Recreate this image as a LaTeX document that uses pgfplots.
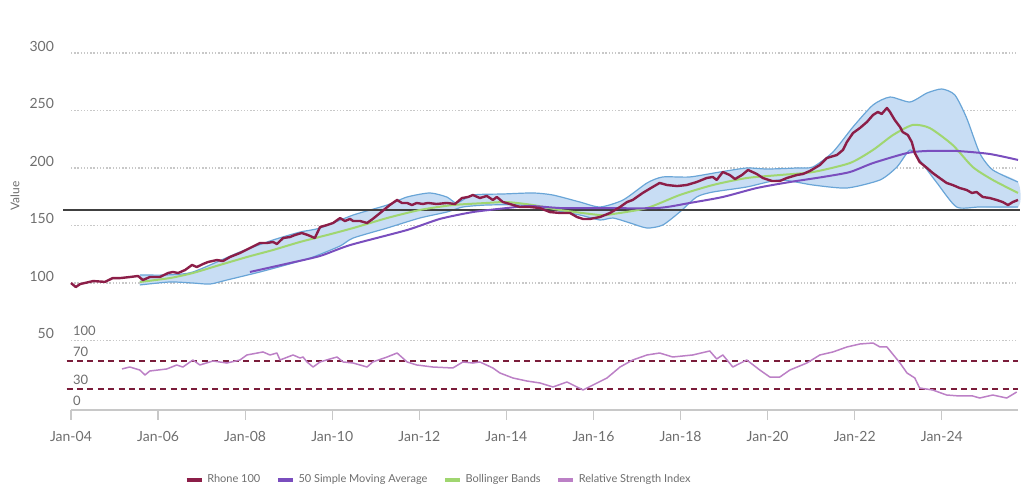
\documentclass[border=0pt]{standalone}
\usepackage{fontspec}
\setmainfont{Lato}
\usepackage{pgfplots}
\usepackage{pgfplotstable}
\pgfplotsset{compat=1.18}

\definecolor{rhone}{RGB}{140,30,72}
\definecolor{sma}{RGB}{122,78,190}
\definecolor{boll}{RGB}{160,214,112}
\definecolor{bandfill}{RGB}{200,221,244}
\definecolor{bandline}{RGB}{105,165,215}
\definecolor{rsi}{RGB}{188,128,198}
\definecolor{rsiref}{RGB}{122,28,58}
\definecolor{txt}{RGB}{110,110,110}
\definecolor{gridc}{RGB}{200,200,200}

% x = years since Jan 2004
\pgfplotstableread{
x y
1.58 107.0
2.20 107.0
2.80 109.6
3.88 127.0
4.64 137.4
5.26 144.3
5.72 147.8
6.48 159.1
7.26 167.8
7.72 174.8
8.24 178.3
8.63 174.8
8.86 169.6
9.23 176.5
9.92 177.4
10.61 178.3
11.07 176.5
11.69 170.4
12.15 166.1
12.68 172.2
13.23 187.0
13.59 192.2
14.21 192.2
14.90 196.5
15.52 200.0
15.98 199.1
16.67 200.0
17.04 200.9
17.50 213.9
17.96 235.7
18.42 254.8
18.81 261.7
19.27 257.4
19.66 265.2
20.00 268.7
20.30 263.5
20.57 243.5
20.87 213.0
21.17 198.3
21.75 187.8
}\bandup

% lower band, read from right to left so that it closes the band area
\pgfplotstableread{
x y
21.75 166.1
20.87 166.1
20.34 166.1
19.89 187.0
19.49 207.0
19.27 215.7
18.97 200.9
18.58 189.6
17.82 182.6
17.04 185.2
16.28 189.6
15.52 183.5
14.74 179.1
14.37 174.8
13.98 161.7
13.59 150.4
13.23 147.8
12.84 152.2
12.45 156.5
12.15 154.8
11.69 159.1
11.07 163.5
10.31 167.8
9.55 167.8
9.00 166.1
8.63 161.7
8.01 156.5
7.26 147.8
6.48 139.1
6.18 132.2
5.56 122.6
5.10 117.4
4.34 109.6
3.58 102.6
3.19 99.1
2.80 100.0
2.27 100.9
1.58 98.3
}\bandlo

\pgfplotstablevertcat{\bandarea}{\bandup}
\pgfplotstablevertcat{\bandarea}{\bandlo}

\begin{document}
\begin{tikzpicture}
\path[use as bounding box] (0,0) rectangle (512pt,248.5pt);

% main panel: index, SMA, Bollinger
\begin{axis}[
  at={(35.5pt,43.5pt)}, anchor=south west,
  scale only axis, width=473.5pt, height=178.5pt,
  xmin=0, xmax=21.75, ymin=-10.4, ymax=300,
  axis lines*=left,
  y axis line style={draw=none}, ytick style={draw=none},
  x axis line style={gridc, line width=0.6pt},
  xtick style={gridc, line width=0.6pt},
  tick align=outside, major tick length=5pt,
  xtick={0,2,...,20},
  xticklabels={Jan-04,Jan-06,Jan-08,Jan-10,Jan-12,Jan-14,Jan-16,Jan-18,Jan-20,Jan-22,Jan-24},
  ytick={50,100,...,300},
  ymajorgrids,
  major grid style={gridc, line width=0.7pt, dash pattern=on 0.7pt off 0.9pt},
  /pgf/number format/assume math mode=true,
  tick label style={font=\fontsize{7}{8}\selectfont, text=txt},
  xticklabel style={yshift=-2pt},
  yticklabel style={yshift=3.5pt, xshift=0pt},
  ylabel={Value},
  ylabel style={at={(axis description cs:-0.059,0.6)}, anchor=center, font=\fontsize{6}{7}\selectfont, text=txt},
  legend columns=4,
  legend style={at={(0.3895,-0.196)}, anchor=center, draw=none, fill=none,
    font=\fontsize{5.5}{6.5}\selectfont, text=txt,
    /tikz/every even column/.append style={column sep=6pt}},
  legend image code/.code={\draw[#1, line width=1.6pt] (0pt,0pt) -- (7.5pt,0pt);},
  clip=false,
]
\addlegendimage{rhone}\addlegendentry{Rhone 100}
\addlegendimage{sma}\addlegendentry{50 Simple Moving Average}
\addlegendimage{boll}\addlegendentry{Bollinger Bands}
\addlegendimage{rsi}\addlegendentry{Relative Strength Index}

% Bollinger band area and its two edges
\addplot[forget plot, fill=bandfill, draw=none, smooth, tension=0.4] table[x=x, y=y] {\bandarea};
\addplot[forget plot, draw=bandline, line width=0.6pt, smooth, tension=0.4] table[x=x, y=y] {\bandup};
\addplot[forget plot, draw=bandline, line width=0.6pt, smooth, tension=0.4] table[x=x, y=y] {\bandlo};

% reference level
\addplot[forget plot, black!75, line width=0.9pt] coordinates {(-0.18,163.5) (21.8,163.5)};

% Bollinger middle
\addplot[forget plot, boll, line width=1pt, smooth, tension=0.4] coordinates {
(1.58,100.9) (2.27,104.3) (2.80,108.7) (3.42,115.7) (4.04,122.6)
(4.64,128.7) (5.26,135.7) (5.88,141.7) (6.48,147.8) (7.26,156.5)
(8.01,163.5) (8.77,167.8) (9.55,169.6) (10.01,170.4) (10.61,167.8)
(11.23,163.5) (12.15,159.1) (12.45,160.0) (13.23,165.2) (13.98,176.5)
(14.74,185.2) (15.52,191.3) (16.28,193.9) (17.04,196.5) (17.89,204.3)
(18.42,215.7) (18.88,228.7) (19.33,237.4) (19.72,234.8) (20.25,220.0)
(20.71,200.9) (21.17,189.6) (21.75,178.3)
};

% 50 simple moving average
\addplot[forget plot, sma, line width=1pt, smooth, tension=0.4] coordinates {
(4.11,109.6) (5.03,117.4) (5.72,123.5) (6.41,133.0) (7.72,146.1)
(8.47,155.7) (9.23,161.7) (10.01,165.2) (10.54,167.0) (11.23,165.2)
(11.92,165.2) (13.46,165.2) (14.21,169.6) (14.97,174.8) (15.75,182.6)
(16.51,187.8) (17.27,192.2) (17.89,196.5) (18.42,204.3) (19.20,213.0)
(19.66,214.8) (20.34,214.8) (21.10,212.2) (21.75,207.0)
};

% Rhone 100
\addplot[forget plot, rhone, line width=1.2pt, line join=round] coordinates {
(0.00,100.0) (0.11,96.5) (0.21,99.1) (0.51,101.7) (0.78,101.0)
(0.96,104.3) (1.13,104.3) (1.35,105.2) (1.54,106.1) (1.65,102.6)
(1.81,105.2) (2.04,105.2) (2.23,108.7) (2.34,109.6) (2.46,108.7)
(2.62,111.3) (2.78,115.7) (2.89,113.9) (3.03,116.5) (3.15,118.3)
(3.35,120.0) (3.49,119.1) (3.65,122.6) (3.88,126.1) (4.11,130.4)
(4.34,134.8) (4.50,134.8) (4.64,135.7) (4.73,133.9) (4.87,139.1)
(5.03,140.0) (5.14,141.7) (5.30,143.5) (5.44,141.7) (5.60,139.1)
(5.72,148.7) (5.88,150.4) (6.02,152.2) (6.18,156.5) (6.29,153.9)
(6.41,155.7) (6.48,153.9) (6.64,153.9) (6.80,152.2) (6.93,155.7)
(7.10,160.9) (7.32,167.8) (7.49,172.2) (7.60,169.6) (7.72,169.6)
(7.83,167.8) (7.94,169.6) (8.08,168.7) (8.20,169.6) (8.40,168.7)
(8.63,169.6) (8.82,168.7) (8.98,173.9) (9.12,174.8) (9.23,176.5)
(9.39,173.9) (9.55,175.7) (9.69,172.2) (9.78,174.8) (9.92,170.4)
(10.08,168.7) (10.31,166.1) (10.54,166.1) (10.77,165.2) (11.00,161.7)
(11.23,160.9) (11.46,160.9) (11.62,157.4) (11.76,155.7) (11.92,155.7)
(12.15,157.4) (12.38,160.9) (12.61,166.1) (12.77,170.4) (12.90,172.2)
(13.13,178.3) (13.36,183.5) (13.52,187.0) (13.69,185.2) (13.92,184.3)
(14.14,185.2) (14.37,187.8) (14.60,191.3) (14.74,192.2) (14.83,189.6)
(14.97,196.5) (15.13,193.9) (15.25,190.4) (15.41,193.9) (15.55,198.3)
(15.75,194.8) (15.89,191.3) (16.10,188.7) (16.28,188.7) (16.44,191.3)
(16.67,193.9) (16.81,194.8) (16.97,197.4) (17.20,202.6) (17.36,208.7)
(17.59,211.3) (17.73,215.7) (17.82,222.6) (17.96,230.4) (18.12,234.8)
(18.28,240.0) (18.42,246.1) (18.53,248.7) (18.62,247.0) (18.74,252.2)
(18.81,248.7) (18.92,241.7) (19.04,235.7) (19.10,231.3) (19.22,228.7)
(19.31,222.6) (19.38,213.0) (19.49,205.2) (19.66,200.0) (19.79,195.7)
(19.95,191.3) (20.11,187.0) (20.25,185.2) (20.41,182.6) (20.57,180.9)
(20.69,178.3) (20.80,179.1) (20.94,174.8) (21.10,173.9) (21.26,172.2)
(21.40,170.4) (21.52,167.8) (21.63,170.4) (21.75,172.2)
};
\end{axis}

% RSI panel
\begin{axis}[
  at={(35.5pt,43.5pt)}, anchor=south west,
  scale only axis, width=473.5pt, height=35pt,
  xmin=0, xmax=21.75, ymin=0, ymax=100,
  hide x axis,
  axis y line*=left,
  y axis line style={draw=none}, ytick style={draw=none},
  ytick={0,30,70,100},
  /pgf/number format/assume math mode=true,
  yticklabel style={anchor=south west, yshift=-1.5pt, xshift=-2.5pt, font=\fontsize{6.5}{7.5}\selectfont, text=txt},
  clip=false,
]
\addplot[rsiref, line width=1.1pt, dash pattern=on 3pt off 2.2pt] coordinates {(-0.1,70) (21.75,70)};
\addplot[rsiref, line width=1.1pt, dash pattern=on 3pt off 2.2pt] coordinates {(-0.1,30) (21.75,30)};
\addplot[rsi, line width=0.75pt, line join=round] coordinates {
(1.17,58.6) (1.35,61.4) (1.58,57.1) (1.70,50.0) (1.81,55.7)
(2.20,58.6) (2.43,64.3) (2.57,61.4) (2.80,71.4) (2.96,64.3)
(3.26,70.0) (3.58,67.1) (3.88,71.4) (4.04,78.6) (4.41,82.9)
(4.57,78.6) (4.73,81.4) (4.80,71.4) (5.10,78.6) (5.26,74.3)
(5.33,75.7) (5.42,68.6) (5.56,61.4) (5.72,68.6) (5.95,72.9)
(6.11,75.7) (6.25,68.6) (6.48,67.1) (6.80,61.4) (6.93,68.6)
(7.26,75.7) (7.49,81.4) (7.72,68.6) (7.94,64.3) (8.31,61.4)
(8.77,60.0) (9.00,68.6) (9.23,67.1) (9.39,68.6) (9.69,60.0)
(9.85,52.9) (10.15,45.7) (10.47,41.4) (10.77,38.6) (11.07,32.9)
(11.39,40.0) (11.53,35.7) (11.76,28.6) (11.99,35.7) (12.31,45.7)
(12.61,61.4) (12.90,71.4) (13.23,78.6) (13.52,81.4) (13.82,75.7)
(14.28,78.6) (14.67,84.3) (14.83,72.9) (14.97,78.6) (15.20,61.4)
(15.52,71.4) (15.82,57.1) (16.05,47.1) (16.28,47.1) (16.51,57.1)
(16.90,67.1) (17.20,78.6) (17.50,82.9) (17.82,90.0) (18.12,94.3)
(18.42,95.7) (18.58,90.0) (18.74,90.0) (19.04,67.1) (19.20,52.9)
(19.38,45.7) (19.49,31.4) (19.79,28.6) (20.11,21.4) (20.41,20.0)
(20.71,20.0) (20.87,17.1) (21.17,21.4) (21.49,17.1) (21.72,25.7)
};
\end{axis}
\end{tikzpicture}
\end{document}
